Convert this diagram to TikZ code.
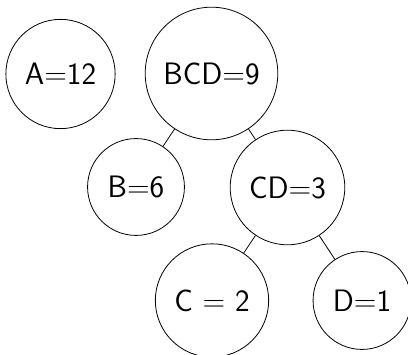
\documentclass[tikz,border=0pt]{standalone}
\usepackage{tikz}
\tikzset{
    bubble/.style={draw, circle, inner sep=13.5pt, font=\fontsize{31}{37}\sffamily},
    branch/.style={line width=0.8pt}
}
\begin{document}
\begin{tikzpicture}[x=1pt, y=-1pt, line width=0.8pt]
        \useasboundingbox (0,0) rectangle (408,355);
        \node [bubble] (a)   at (60.5,74)   {A=12};
        \node [bubble] (bcd) at (211.5,73.5) {BCD=9};
        \node [bubble] (b)   at (136,187)   {B=6};
        \node [bubble] (cd)  at (287.5,187.5) {CD=3};
        \node [bubble] (c)   at (212,300.5)   {C = 2};
        \node [bubble] (d)   at (362,300.5)   {D=1};

        \draw [branch] (bcd) -- (b);
        \draw [branch] (bcd) -- (cd);
        \draw [branch] (cd) -- (c);
        \draw [branch] (cd) -- (d);
    \end{tikzpicture}
\end{document}
